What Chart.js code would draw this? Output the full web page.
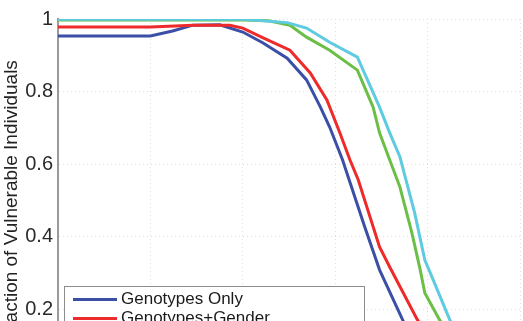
<!DOCTYPE html>
<html>
<head>
  <meta charset="UTF-8">
  <title>Fraction of Vulnerable Individuals</title>
  <script src="https://cdn.jsdelivr.net/npm/chart.js"></script>
  <style>
    html, body { margin: 0; padding: 0; overflow: hidden; background: #fff; }
  </style>
</head>
<body>
  <canvas id="vulnChart" width="523" height="400"></canvas>
  <script>
    // values (x axis itself is cropped away, so 0..50 is a stand-in)
    const seriesNames = ['Genotypes Only', 'Genotypes+Gender', 'Genotypes+Age', 'Genotypes+Gender+Age'];
    const seriesColors = ['#3b4fa6', '#ee2a2a', '#6cbf46', '#5ecbe0'];

    const genoX = [0, 10, 12.4, 14.6, 17.5, 20.0, 22.2, 24.8, 26.9, 28.4, 29.4, 30.8, 33.2, 34.8, 37.3, 38.5, 40, 42, 45, 50];
    const genoY = [0.953, 0.953, 0.967, 0.983, 0.984, 0.964, 0.934, 0.892, 0.832, 0.757, 0.702, 0.611, 0.426, 0.308, 0.170, 0.11, 0.05, 0.02, 0.005, 0];

    const genderX = [0, 10, 14.6, 18.6, 20.0, 22.2, 25.1, 27.3, 29.1, 30.5, 31.6, 32.5, 34.8, 35.9, 38.9, 40.5, 42, 45, 50];
    const genderY = [0.978, 0.978, 0.983, 0.983, 0.975, 0.948, 0.914, 0.851, 0.777, 0.686, 0.611, 0.556, 0.371, 0.316, 0.170, 0.11, 0.05, 0.01, 0];

    const ageX = [0, 10, 20, 22.8, 25.1, 26.9, 29.4, 32.4, 34.1, 34.8, 35.9, 37.0, 38.3, 39.2, 39.7, 41.3, 43, 45, 50];
    const ageY = [0.997, 0.997, 0.997, 0.995, 0.983, 0.950, 0.914, 0.859, 0.757, 0.686, 0.611, 0.537, 0.410, 0.308, 0.244, 0.170, 0.10, 0.04, 0];

    const allX = [0, 10, 20, 24.8, 26.9, 29.4, 32.4, 34.8, 35.9, 37.0, 38.6, 39.7, 40.3, 42.4, 44, 46, 50];
    const allY = [0.999, 0.999, 0.999, 0.990, 0.975, 0.936, 0.895, 0.757, 0.686, 0.620, 0.465, 0.335, 0.299, 0.170, 0.10, 0.04, 0];

    const yTickValues = [0, 0.2, 0.4, 0.6, 0.8, 1];
    const yTickLabels = ['0', '0.2', '0.4', '0.6', '0.8', '1'];
    const xTickValues = [0, 10, 20, 30, 40, 50];

    const pts = (xs, ys) => xs.map((x, i) => ({ x: x, y: ys[i] }));
    const seriesData = [pts(genoX, genoY), pts(genderX, genderY), pts(ageX, ageY), pts(allX, allY)];

    const FONT = '"Liberation Sans", Arial, sans-serif';

    // MATLAB-style boxed legend sitting inside the axes
    const boxLegend = {
      id: 'boxLegend',
      afterDatasetsDraw(chart) {
        const { ctx, chartArea } = chart;
        const x0 = chartArea.left + 6, y0 = 286, w = 300, rowH = 19;
        const sets = chart.data.datasets;
        const h = rowH * sets.length + 10;
        ctx.save();
        ctx.fillStyle = '#fff';
        ctx.fillRect(x0, y0, w, h);
        ctx.strokeStyle = '#8c8c8c';
        ctx.lineWidth = 1;
        ctx.strokeRect(x0 + 0.5, y0 + 0.5, w, h);
        ctx.font = '17px ' + FONT;
        ctx.textBaseline = 'middle';
        sets.forEach((ds, i) => {
          const cy = y0 + 13.5 + i * rowH;
          ctx.strokeStyle = ds.borderColor;
          ctx.lineWidth = 3;
          ctx.beginPath();
          ctx.moveTo(x0 + 9, cy);
          ctx.lineTo(x0 + 53, cy);
          ctx.stroke();
          ctx.fillStyle = '#1a1a1a';
          ctx.fillText(ds.label, x0 + 57, cy);
        });
        ctx.restore();
      }
    };

    const ctx = document.getElementById('vulnChart').getContext('2d');
    new Chart(ctx, {
      type: 'line',
      data: {
        datasets: seriesNames.map((name, i) => ({
          label: name,
          data: seriesData[i],
          borderColor: seriesColors[i],
          backgroundColor: seriesColors[i],
          borderWidth: 3,
          pointRadius: 0,
          tension: 0,
          order: seriesNames.length - i   // later series drawn on top
        }))
      },
      options: {
        responsive: false,
        animation: false,
        layout: { padding: { top: 19, right: 3, left: 0, bottom: 0 } },
        plugins: { legend: { display: false }, tooltip: { enabled: false } },
        scales: {
          x: {
            type: 'linear',
            min: 0, max: 50,
            afterBuildTicks: s => { s.ticks = xTickValues.map(v => ({ value: v })); },
            afterFit: s => { s.height = 18.5; },
            ticks: { display: false },
            grid: { color: '#dedede', lineWidth: 1, drawTicks: false },
            border: { display: true, color: '#9a9a9a', width: 2, dash: [1, 3] }
          },
          y: {
            type: 'linear',
            min: 0, max: 1,
            afterBuildTicks: s => { s.ticks = yTickValues.map(v => ({ value: v })); },
            afterFit: s => { s.width = 58; },
            ticks: {
              padding: 5,
              color: '#2a2a2a',
              font: { family: FONT, size: 20 },
              callback: (v, i) => yTickLabels[i]
            },
            grid: { color: '#e0e0e0', lineWidth: 1, drawTicks: false },
            border: { display: true, color: '#9a9a9a', width: 2, dash: [1, 3] },
            title: {
              display: true,
              text: 'Fraction of Vulnerable Individuals',
              color: '#222',
              font: { family: FONT, size: 19 },
              padding: 0
            }
          }
        }
      },
      plugins: [boxLegend]
    });
  </script>
</body>
</html>
